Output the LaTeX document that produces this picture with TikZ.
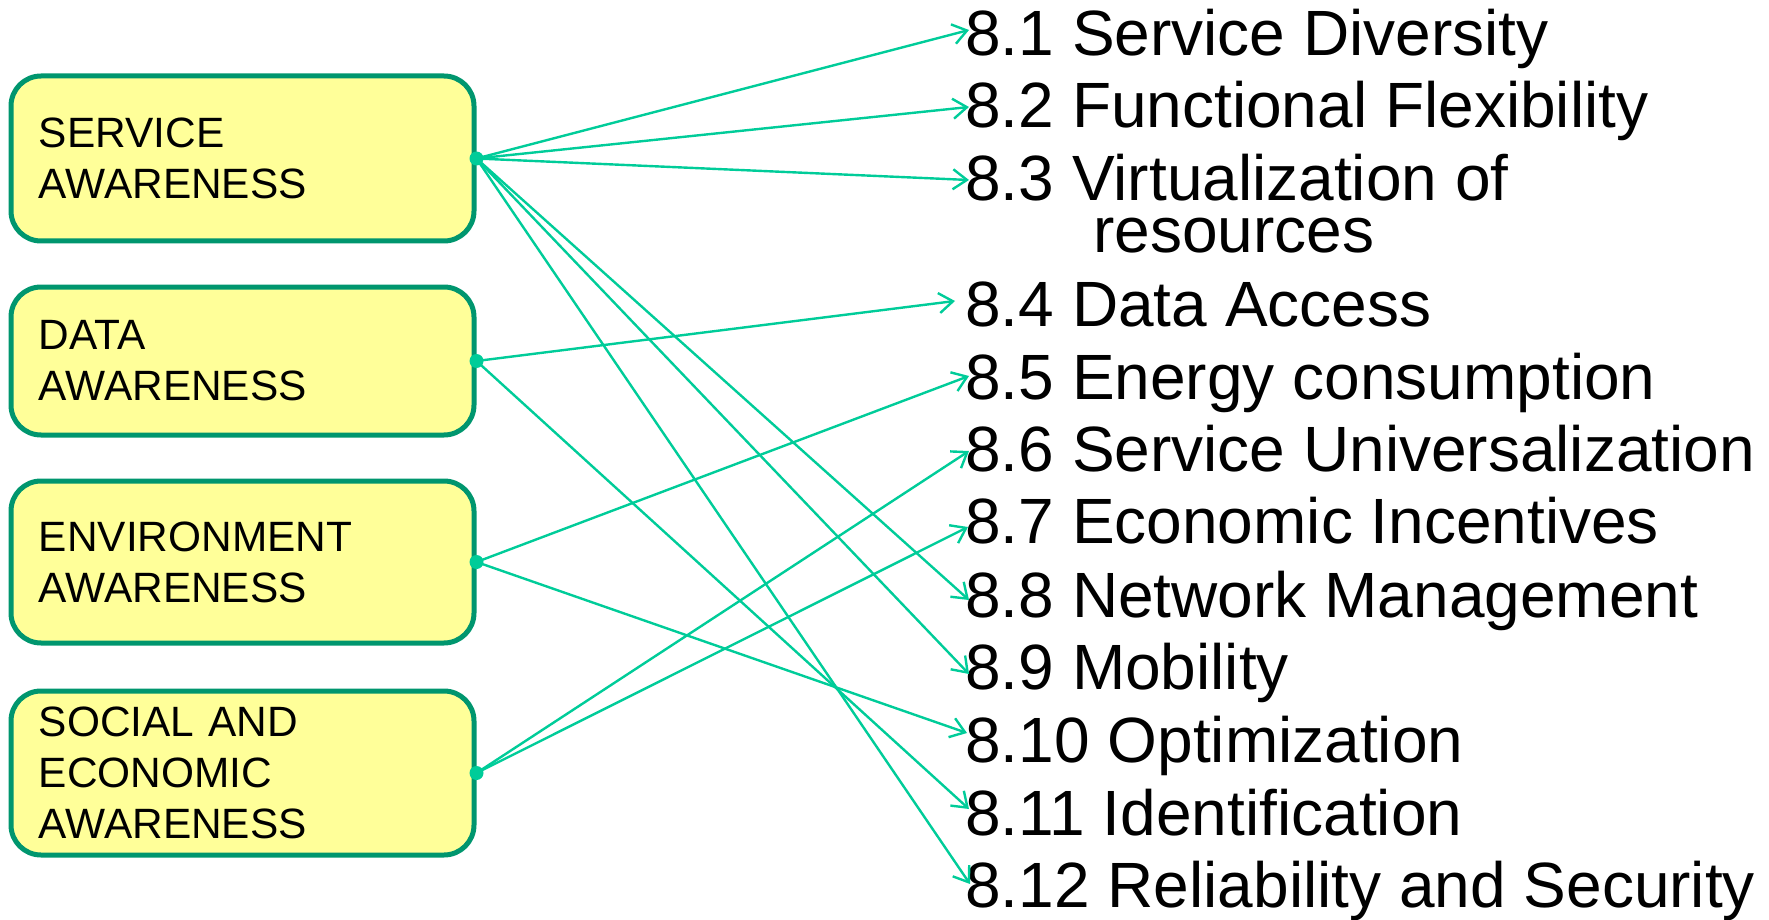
\documentclass[tikz,border=0pt]{standalone}
\usepackage{fontspec}
\setmainfont{Liberation Sans}
\usetikzlibrary{arrows.meta}
\definecolor{boxfill}{RGB}{255,255,153}
\definecolor{boxline}{RGB}{0,150,110}
\definecolor{linkcol}{RGB}{0,204,153}
\begin{document}
\begin{tikzpicture}[x=0.5pt,y=-0.5pt,
  awbox/.style={draw=boxline, fill=boxfill, line width=2.5pt, rounded corners=15pt,
    inner xsep=14pt, inner ysep=0pt, text width=203.5pt, align=left,
    font=\fontsize{21.2}{25.5}\selectfont},
  item/.style={anchor=base west, inner sep=0pt, font=\fontsize{32}{37}\selectfont},
  linkarrow/.style={draw=linkcol, line width=1.2pt, -{Straight Barb[length=7pt,width=10pt]}},
  dotmark/.style={fill=linkcol}]
\useasboundingbox (0,0) rectangle (1769,920);

% boxes
\node[awbox, minimum height=82.5pt] (s) at (242.5,158.5) {SERVICE\\AWARENESS};
\node[awbox, minimum height=74pt] (d) at (242.5,361) {DATA\\AWARENESS};
\node[awbox, minimum height=81pt] (e) at (242.5,562) {ENVIRONMENT\\AWARENESS};
\node[awbox, minimum height=82pt] (o) at (242.5,773) {SOCIAL AND\\ECONOMIC\\AWARENESS};

% labels
\node[item] (l1) at (965,56) {8.1 Service Diversity};
\node[item] (l2) at (965,128) {8.2 Functional Flexibility};
\node[item] (l3) at (965,200) {\vtop{\lineskiplimit=-100pt\baselineskip=26.5pt
  \hbox{8.3 Virtualization of}\hbox{\hspace*{64pt}resources}}};
\node[item] (l4) at (965,326) {8.4 Data Access};
\node[item] (l5) at (965,399) {8.5 Energy consumption};
\node[item] (l6) at (965,471) {8.6 Service Universalization};
\node[item] (l7) at (965,543) {8.7 Economic Incentives};
\node[item] (l8) at (965,617) {8.8 Network Management};
\node[item] (l9) at (965,689) {8.9 Mobility};
\node[item] (l10) at (965,762) {8.10 Optimization};
\node[item] (l11) at (965,835) {8.11 Identification};
\node[item] (l12) at (965,907) {8.12 Reliability and Security};

% arrow tips
\coordinate (t1) at (969,30);
\coordinate (t2) at (969,107);
\coordinate (t3) at (969,180);
\coordinate (t4) at (955,301);
\coordinate (t5) at (969,376);
\coordinate (t6) at (969,451);
\coordinate (t7) at (968,527);
\coordinate (t8) at (969,600);
\coordinate (t9) at (969,674);
\coordinate (t10) at (967,733);
\coordinate (t11) at (969,809);
\coordinate (t12) at (970,884);

% connectors
\foreach \t in {t1,t2,t3,t8,t9,t12} \draw[linkarrow] (s.east) -- (\t);
\foreach \t in {t4,t11} \draw[linkarrow] (d.east) -- (\t);
\foreach \t in {t5,t10} \draw[linkarrow] (e.east) -- (\t);
\foreach \t in {t6,t7} \draw[linkarrow] (o.east) -- (\t);

% dots
\foreach \n in {s,d,e,o} \fill[dotmark] (\n.east) circle (3.5pt);
\end{tikzpicture}
\end{document}
